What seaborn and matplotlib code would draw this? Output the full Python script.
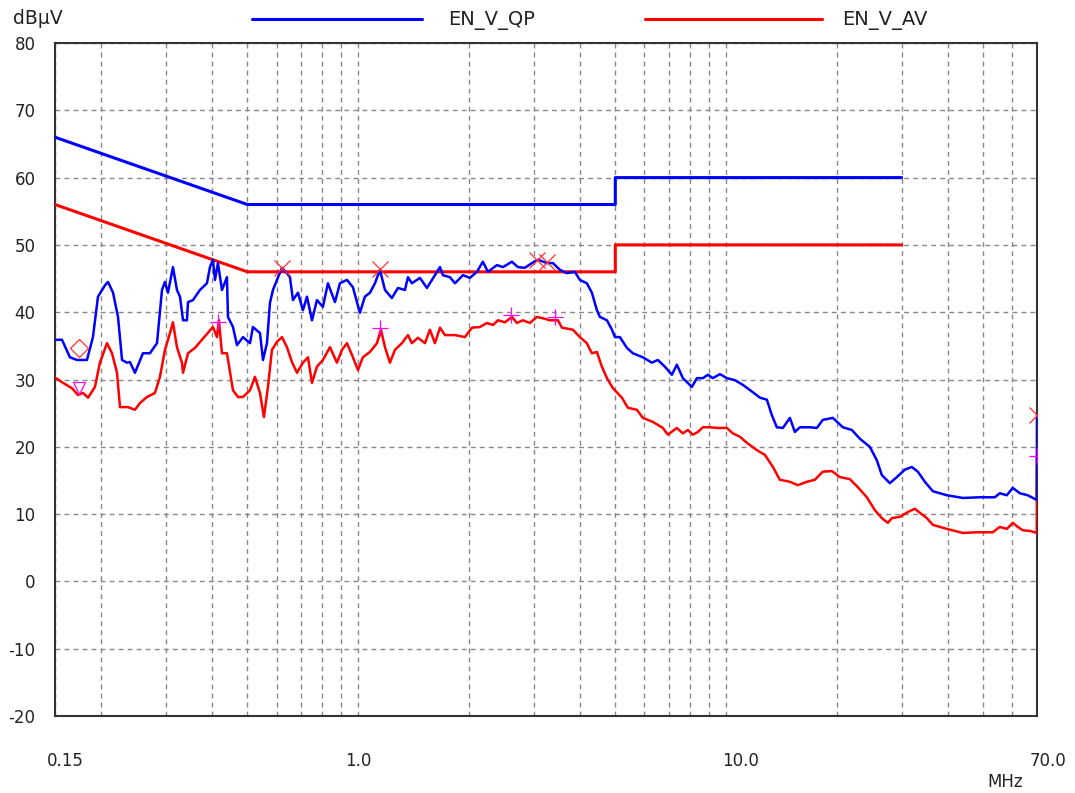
import pandas as pd
import seaborn as sns
import matplotlib
matplotlib.use("Agg")
import matplotlib.pyplot as plt
import matplotlib.transforms as mtransforms
from matplotlib.lines import Line2D
from matplotlib.ticker import FixedLocator, NullFormatter

# Limit lines (EN 55032 class B style)
lim_freq = [0.15, 0.5, 5.0, 5.0, 30.0]
qp_limit = [66, 56, 56, 60, 60]
av_limit = [56, 46, 46, 50, 50]

# Quasi-peak trace (MHz, dBuV)
qp_freq = [0.151, 0.1567, 0.1647, 0.1721, 0.1832, 0.1902, 0.1963, 0.2051, 0.2090, 0.2157,
           0.2225, 0.2282, 0.2353, 0.2398, 0.2474, 0.2601, 0.2717, 0.2840, 0.2930, 0.2985,
           0.3042, 0.3138, 0.3218, 0.3280, 0.3342, 0.3426, 0.3448, 0.3557, 0.3716, 0.3882,
           0.3956, 0.4030, 0.4082, 0.4159, 0.4265, 0.4400, 0.4428, 0.4569, 0.4685, 0.4864,
           0.5082, 0.5177, 0.5410, 0.5513, 0.5652, 0.5759, 0.5868, 0.6017, 0.6208, 0.6405,
           0.6527, 0.6650, 0.6862, 0.7079, 0.7260, 0.7491, 0.7727, 0.8022, 0.8278, 0.8650,
           0.8924, 0.9324, 0.9680, 1.011, 1.043, 1.077, 1.111, 1.146, 1.183, 1.235,
           1.283, 1.340, 1.366, 1.400, 1.472, 1.538, 1.587, 1.669, 1.700, 1.776,
           1.833, 1.927, 2.013, 2.103, 2.183, 2.253, 2.384, 2.475, 2.618, 2.718,
           2.840, 2.968, 3.081, 3.258, 3.383, 3.535, 3.693, 3.882, 4.005, 4.184,
           4.318, 4.456, 4.540, 4.745, 4.896, 4.988, 5.145, 5.376, 5.581, 5.940,
           6.285, 6.526, 6.819, 7.124, 7.350, 7.631, 8.074, 8.331, 8.650, 8.924,
           9.208, 9.620, 10.05, 10.57, 11.11, 11.83, 12.36, 12.91, 13.32, 13.74,
           14.27, 14.91, 15.38, 15.87, 16.90, 17.65, 18.32, 19.51, 20.77, 21.97,
           23.10, 24.59, 25.69, 26.51, 27.87, 29.12, 30.61, 31.98, 33.21, 34.70,
           36.48, 39.81, 44.01, 48.95, 53.77, 55.46, 57.94, 60.16, 62.86, 66.08,
           69.9, 70.0]
qp_level = [35.9, 35.9, 33.3, 32.9, 32.9, 36.3, 42.3, 44.0, 44.5, 42.9,
            39.3, 32.9, 32.5, 32.6, 31.0, 33.9, 33.9, 35.4, 43.3, 44.5,
            42.9, 46.7, 43.3, 42.3, 38.8, 38.8, 41.5, 41.8, 43.3, 44.3,
            46.7, 47.8, 44.8, 47.3, 43.3, 45.2, 39.3, 37.8, 35.1, 36.3,
            35.4, 37.8, 36.9, 32.9, 35.4, 41.4, 43.3, 44.8, 46.6, 45.8,
            45.2, 41.8, 42.9, 40.3, 42.3, 38.8, 41.8, 40.8, 44.3, 41.5,
            44.3, 44.8, 43.7, 39.9, 42.3, 42.9, 44.3, 46.3, 43.3, 42.1,
            43.6, 43.3, 45.2, 44.3, 45.1, 43.6, 44.8, 46.7, 45.5, 45.2,
            44.3, 45.5, 45.1, 46.0, 47.5, 46.0, 47.0, 46.7, 47.5, 46.7,
            46.6, 47.3, 47.8, 47.3, 47.3, 46.3, 45.8, 46.0, 44.8, 44.3,
            42.9, 40.3, 39.3, 38.8, 37.4, 36.3, 36.3, 34.7, 33.9, 33.3,
            32.5, 32.9, 31.9, 30.7, 32.2, 30.2, 28.9, 30.2, 30.2, 30.7,
            30.2, 30.8, 30.2, 29.9, 29.2, 28.1, 27.3, 27.0, 24.7, 22.9,
            22.8, 24.3, 22.2, 22.9, 22.9, 22.8, 24.0, 24.3, 22.9, 22.5,
            21.2, 20.0, 18.0, 15.8, 14.6, 15.5, 16.6, 17.0, 16.3, 14.8,
            13.4, 12.8, 12.4, 12.5, 12.5, 13.1, 12.8, 13.9, 13.1, 12.8,
            12.1, 24.7]

# Average trace
av_freq = [0.151, 0.1577, 0.1669, 0.1732, 0.1788, 0.1845, 0.1926, 0.1987, 0.2077, 0.2143,
           0.2211, 0.2253, 0.2368, 0.2474, 0.2553, 0.2667, 0.2804, 0.2893, 0.2985, 0.3080,
           0.3138, 0.3218, 0.3320, 0.3342, 0.3448, 0.3602, 0.3763, 0.3906, 0.4030, 0.4133,
           0.4184, 0.4265, 0.4400, 0.4569, 0.4714, 0.4864, 0.5082, 0.5242, 0.5410, 0.5546,
           0.5687, 0.5831, 0.6017, 0.6208, 0.6405, 0.6608, 0.6819, 0.7079, 0.7305, 0.7491,
           0.7727, 0.8022, 0.8383, 0.8757, 0.9036, 0.9324, 0.9680, 0.999, 1.030, 1.077,
           1.125, 1.153, 1.183, 1.220, 1.259, 1.315, 1.366, 1.400, 1.454, 1.519,
           1.567, 1.617, 1.669, 1.721, 1.833, 1.951, 2.038, 2.143, 2.239, 2.325,
           2.399, 2.506, 2.618, 2.701, 2.804, 2.930, 3.061, 3.178, 3.321, 3.491,
           3.580, 3.834, 4.005, 4.184, 4.318, 4.456, 4.597, 4.745, 4.926, 5.211,
           5.410, 5.723, 5.940, 6.325, 6.734, 6.948, 7.350, 7.631, 7.874, 8.124,
           8.382, 8.650, 9.036, 9.499, 10.05, 10.43, 10.90, 11.39, 12.13, 12.75,
           13.41, 14.00, 14.91, 15.67, 16.58, 17.43, 18.32, 19.39, 20.38, 21.70,
           22.81, 24.13, 25.37, 26.51, 27.53, 28.22, 29.67, 31.19, 32.59, 33.62,
           35.13, 36.48, 39.81, 44.01, 48.04, 53.09, 55.46, 57.94, 60.16, 62.08,
           64.05, 66.99, 69.9, 70.0]
av_level = [30.2, 29.5, 28.7, 27.7, 28.0, 27.3, 28.9, 32.5, 35.4, 33.9,
            31.0, 25.9, 25.9, 25.5, 26.5, 27.4, 28.0, 30.4, 34.4, 36.9,
            38.5, 34.8, 32.5, 31.0, 33.9, 34.7, 35.9, 36.9, 37.8, 36.3,
            38.8, 33.9, 33.9, 28.4, 27.4, 27.4, 28.4, 30.4, 28.0, 24.4,
            28.9, 34.4, 35.6, 36.3, 34.8, 32.6, 31.0, 32.5, 33.3, 29.5,
            31.9, 32.9, 34.8, 32.5, 34.4, 35.4, 33.3, 31.4, 33.3, 34.1,
            35.4, 37.4, 34.8, 32.5, 34.4, 35.4, 36.6, 35.4, 36.2, 35.4,
            37.4, 35.4, 37.7, 36.6, 36.6, 36.3, 37.7, 37.8, 38.4, 38.1,
            38.8, 38.5, 39.3, 38.4, 38.8, 38.4, 39.3, 39.1, 38.8, 38.8,
            37.7, 37.4, 36.3, 35.4, 33.9, 34.1, 31.9, 30.2, 28.7, 27.3,
            25.8, 25.5, 24.3, 23.7, 22.8, 21.8, 22.8, 22.0, 22.5, 21.8,
            22.2, 22.9, 22.9, 22.8, 22.8, 22.0, 21.5, 20.6, 19.5, 18.8,
            17.0, 15.1, 14.8, 14.3, 14.8, 15.1, 16.3, 16.4, 15.5, 15.2,
            14.0, 12.5, 10.6, 9.4, 8.7, 9.4, 9.6, 10.3, 10.8, 10.2,
            9.4, 8.4, 7.8, 7.2, 7.3, 7.3, 8.1, 7.8, 8.7, 8.1,
            7.6, 7.5, 7.2, 18.6]

# Final measurement points
qp_peak_freq = [0.621, 1.146, 3.06, 3.26, 70.0]
qp_peak_level = [46.6, 46.4, 47.8, 47.5, 24.7]
av_peak_freq = [0.416, 1.146, 2.61, 3.42, 70.0]
av_peak_level = [38.5, 37.7, 39.6, 39.3, 18.6]
diamond_freq, diamond_level = [0.174], [34.7]
triangle_freq, triangle_level = [0.174], [28.7]

qp_df = pd.DataFrame({"freq": qp_freq, "level": qp_level})
av_df = pd.DataFrame({"freq": av_freq, "level": av_level})

sns.set_style("white")
plt.rcParams["font.family"] = ["DejaVu Sans"]
plt.rcParams["axes.unicode_minus"] = False

fig = plt.figure(figsize=(10.75, 7.93), dpi=100)
ax = fig.add_axes([55 / 1075, 1 - 716 / 793, (1037 - 55) / 1075, (716 - 43) / 793])
ax.set_xscale("log")

ax.plot(lim_freq, qp_limit, color="#0000FF", lw=2.2, zorder=3)
ax.plot(lim_freq, av_limit, color="#FF0000", lw=2.2, zorder=3)

sns.lineplot(x="freq", y="level", data=av_df, color="#FF0000", lw=1.8,
             sort=False, estimator=None, ax=ax, zorder=4)
sns.lineplot(x="freq", y="level", data=qp_df, color="#0000FF", lw=1.8,
             sort=False, estimator=None, ax=ax, zorder=5)

ax.plot(qp_peak_freq, qp_peak_level, ls="none", marker="x", ms=11, mew=0.9,
        color="#FF3030", zorder=6)
ax.plot(av_peak_freq, av_peak_level, ls="none", marker="+", ms=12, mew=0.9,
        color="#FF00FF", zorder=6)
ax.plot(diamond_freq, diamond_level, ls="none", marker="D", ms=9, mew=0.9,
        mfc="none", mec="#FF3030", zorder=6)
ax.plot(triangle_freq, triangle_level, ls="none", marker="v", ms=9, mew=0.9,
        mfc="none", mec="#FF00FF", zorder=6)

ax.set_xlim(0.15, 70)
ax.set_ylim(-20, 80)
ax.set_xlabel("")
ax.set_ylabel("")

ax.xaxis.set_major_locator(FixedLocator([0.15, 1, 10, 70]))
ax.set_xticklabels(["0.15", "1.0", "10.0", "70.0"])
minor = [m / 10 for m in range(2, 10)] + list(range(2, 10)) + [20, 30, 40, 50, 60]
ax.xaxis.set_minor_locator(FixedLocator(minor))
ax.xaxis.set_minor_formatter(NullFormatter())
ax.set_yticks(range(-20, 81, 10))

ax.tick_params(axis="x", which="minor", length=0)
ax.tick_params(axis="x", which="major", direction="in", length=10, width=1.2,
               pad=26, labelsize=12, colors="#222222")
ax.tick_params(axis="y", length=0, pad=14, labelsize=12, colors="#222222")

# nudge x labels the way the source software placed them
for lab, dx in zip(ax.get_xticklabels(), [10, 0, 14, 11]):
    lab.set_transform(lab.get_transform() +
                      mtransforms.ScaledTranslation(dx / 100, 0, fig.dpi_scale_trans))

ax.grid(which="both", axis="x", color="#888888", ls=(0, (3.5, 3)), lw=1)
ax.grid(which="major", axis="y", color="#888888", ls=(0, (3.5, 3)), lw=1)
ax.set_axisbelow(True)

for s in ax.spines.values():
    s.set_color("#333333")
    s.set_linewidth(1.5)

# header legend and units
fig.add_artist(Line2D([252 / 1075, 422 / 1075], [1 - 19 / 793] * 2,
                      transform=fig.transFigure, color="#0000FF", lw=2.2))
fig.text(448 / 1075, 1 - 21 / 793, "EN_V_QP", fontsize=14, va="center", color="#222222")
fig.add_artist(Line2D([645 / 1075, 822 / 1075], [1 - 19 / 793] * 2,
                      transform=fig.transFigure, color="#FF0000", lw=2.2))
fig.text(842 / 1075, 1 - 21 / 793, "EN_V_AV", fontsize=14, va="center", color="#222222")
fig.text(38 / 1075, 1 - 19 / 793, "dBµV", fontsize=13.5, ha="center", va="center",
         color="#222222")
fig.text(1005 / 1075, 1 - 782 / 793, "MHz", fontsize=12, ha="center", va="center",
         color="#222222")

fig.savefig("out.png", dpi=100)
